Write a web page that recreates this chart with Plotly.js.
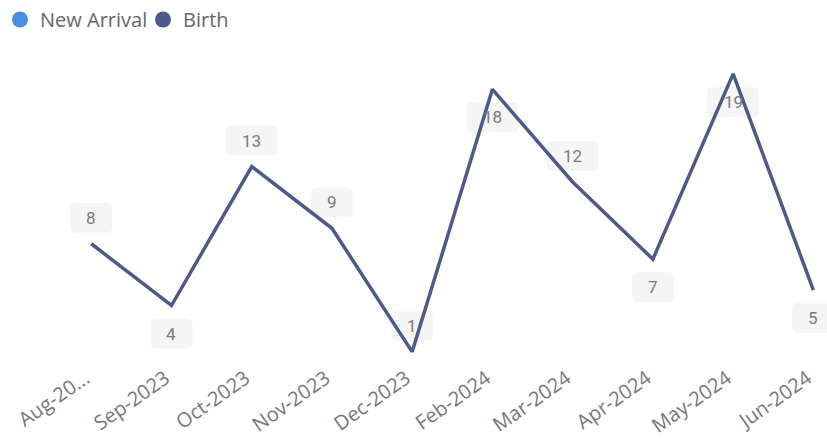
<!DOCTYPE html>
<html>
<head>
<meta charset="utf-8">
<script src="https://cdn.plot.ly/plotly-3.0.1.min.js"></script>
<style>html,body{margin:0;padding:0;background:#fff;}#chart{width:827px;height:439px;}</style>
</head>
<body>
<div id="chart"></div>
<script>
// ---- data ----
var categories = ['Aug-2023','Sep-2023','Oct-2023','Nov-2023','Dec-2023','Feb-2024','Mar-2024','Apr-2024','May-2024','Jun-2024'];
var tickLabels = ['Aug-20...','Sep-2023','Oct-2023','Nov-2023','Dec-2023','Feb-2024','Mar-2024','Apr-2024','May-2024','Jun-2024'];
var birthValues = [8, 4, 13, 9, 1, 18, 12, 7, 19, 5];
var labelSide = ['above','below','above','above','above','below','above','below','below','below'];
var seriesNames = ['New Arrival', 'Birth'];

// ---- styles ----
var colNew = '#4A8FE0';
var colBirth = '#4B5A8B';
var labelFont = {family: 'Roboto, "DejaVu Sans", sans-serif', size: 17, color: '#7A7A7A'};

var traces = [
  {x: [null], y: [null], type: 'scatter', mode: 'markers', name: seriesNames[0],
   marker: {color: colNew, size: 20, symbol: 'circle'}, hoverinfo: 'skip'},
  {x: [null], y: [null], type: 'scatter', mode: 'markers', name: seriesNames[1],
   marker: {color: colBirth, size: 20, symbol: 'circle'}, hoverinfo: 'skip'},
  {x: categories, y: birthValues, type: 'scatter', mode: 'lines', name: seriesNames[1],
   showlegend: false, line: {color: colBirth, width: 3.5}}
];

var annotations = [];
var shapes = [];
for (var i = 0; i < categories.length; i++) {
  var txt = String(birthValues[i]);
  var shift = labelSide[i] === 'above' ? 26 : -28;
  var w = 32 + 10 * txt.length, h = 30, r = 6;
  var x0 = -w / 2, x1 = w / 2, y0 = shift - h / 2, y1 = shift + h / 2;
  var path = 'M' + (x0 + r) + ',' + y1 + ' L' + (x1 - r) + ',' + y1 +
    ' Q' + x1 + ',' + y1 + ' ' + x1 + ',' + (y1 - r) +
    ' L' + x1 + ',' + (y0 + r) + ' Q' + x1 + ',' + y0 + ' ' + (x1 - r) + ',' + y0 +
    ' L' + (x0 + r) + ',' + y0 + ' Q' + x0 + ',' + y0 + ' ' + x0 + ',' + (y0 + r) +
    ' L' + x0 + ',' + (y1 - r) + ' Q' + x0 + ',' + y1 + ' ' + (x0 + r) + ',' + y1 + ' Z';
  shapes.push({type: 'path', xref: 'x', yref: 'y', xsizemode: 'pixel', ysizemode: 'pixel',
    xanchor: categories[i], yanchor: birthValues[i], path: path,
    fillcolor: '#F5F5F5', line: {width: 0}, layer: 'below'});
  annotations.push({x: categories[i], y: birthValues[i], xref: 'x', yref: 'y',
    text: txt, showarrow: false, yshift: shift, xanchor: 'center', yanchor: 'middle',
    font: labelFont});
}

var layout = {
  width: 827, height: 439,
  margin: {l: 11, r: 0, t: 43, b: 64},
  paper_bgcolor: '#ffffff', plot_bgcolor: '#ffffff',
  showlegend: true,
  legend: {orientation: 'h', xref: 'paper', yref: 'container', x: -13 / 816, y: 1,
    xanchor: 'left', yanchor: 'top', itemsizing: 'trace', entrywidth: 98, entrywidthmode: 'pixels',
    font: {family: '"Open Sans", "Noto Sans", sans-serif', size: 20, color: '#666666'},
    bgcolor: 'rgba(0,0,0,0)', tracegroupgap: 0, itemwidth: 30},
  xaxis: {type: 'category', range: [-1, 9.17], showgrid: false, zeroline: false,
    showline: false, ticks: '', tickangle: -35, tickmode: 'array',
    tickvals: categories, ticktext: tickLabels,
    ticklabelstandoff: -13, ticklabelshift: -6,
    tickfont: {family: '"Open Sans", "Noto Sans", sans-serif', size: 20, color: '#777777'}},
  yaxis: {range: [-0.5, 21], visible: false, showgrid: false, zeroline: false},
  shapes: shapes,
  annotations: annotations
};

Plotly.newPlot('chart', traces, layout, {displayModeBar: false, staticPlot: true});
</script>
</body>
</html>
